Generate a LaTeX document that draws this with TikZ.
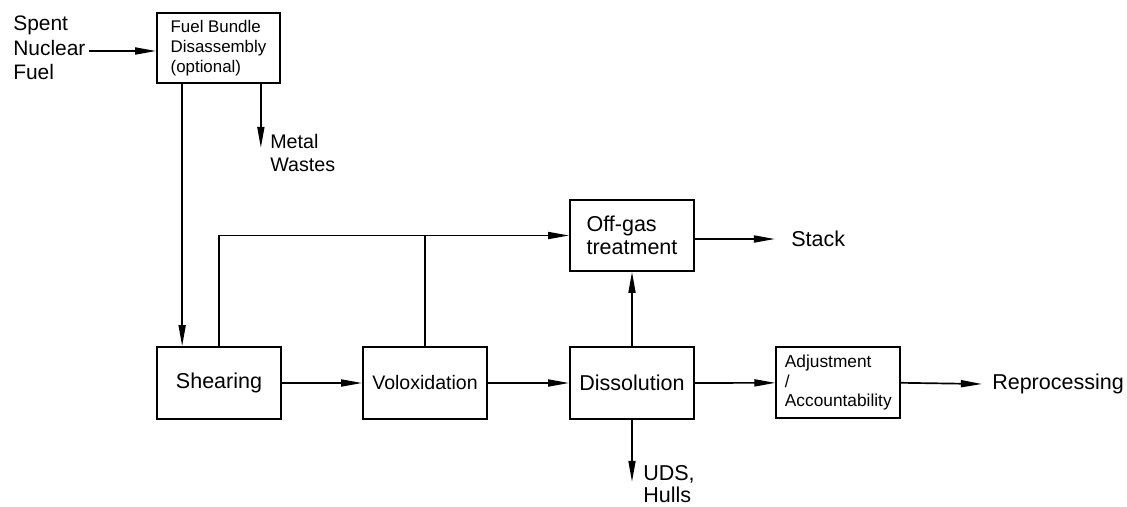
\documentclass[tikz,border=0pt]{standalone}
\usepackage{fontspec}
\setmainfont{Liberation Sans}
\usetikzlibrary{arrows.meta,calc}

\tikzset{
    proc/.style={draw, line width=1.2pt, inner sep=0, align=left,
        minimum width=3.1cm, minimum height=1.8cm,
        font=\fontsize{15.3}{16.6}\selectfont},
    lbl/.style={inner sep=0, align=left, font=\fontsize{15.3}{16.8}\selectfont},
    flow/.style={line width=1.2pt, -{Triangle[length=15pt, width=5pt]}},
    wire/.style={line width=1.2pt}
}

\begin{document}
\begin{tikzpicture}[x=0.025cm, y=-0.025cm]
\useasboundingbox (0,0) rectangle (1127,507);

    %boxes
    \node[proc, minimum width=3.075cm, minimum height=1.75cm,
        font=\fontsize{12}{14.2}\selectfont] (fuelbox) at (218.5,48)
        {Fuel Bundle\\Disassembly\\(optional)};
    \node[proc] (shear) at (219,383) {Shearing};
    \node[proc, font=\fontsize{13.9}{15}\selectfont] (volox) at (425,383) {Voloxidation};
    \node[proc] (dissol) at (632,383) {Dissolution};
    \node[proc, minimum height=1.775cm] (offgas) at (632,235.5) {Off-gas\\treatment};
    \node[proc, minimum height=1.775cm,
        font=\fontsize{12.3}{14}\selectfont] (adjust) at (838.3,382.8)
        {Adjustment\\/\\Accountability};

    %outside labels
    \node[lbl, anchor=west, font=\fontsize{14.9}{17.4}\selectfont] (snf) at (13,48)
        {Spent\\Nuclear\\Fuel};
    \node[lbl, anchor=north west, font=\fontsize{14}{16}\selectfont] (metal) at (270,134)
        {Metal\\Wastes};
    \node[lbl, anchor=west] (stack) at (791,239) {Stack};
    \node[lbl, anchor=west] (repro) at (992,384) {Reprocessing};
    \node[lbl, anchor=north west, font=\fontsize{15.3}{15.6}\selectfont] (uds) at (643,465)
        {UDS,\\Hulls};

    %flows
    \coordinate (sa) at ($(snf.east)+(3,3)$);
    \draw[flow] (sa) -- (sa -| fuelbox.west);
    \coordinate (fa) at ($(fuelbox.south west)+(26,0)$);
    \draw[flow] (fa) -- (fa |- shear.north);
    \coordinate (mw) at ($(fuelbox.south east)+(-20,0)$);
    \coordinate (mwend) at ($(mw)+(0,64)$);
    \draw[flow] (mw) -- (mwend);

    \draw[flow] (shear) -- (volox);
    \draw[flow] (volox) -- (dissol);
    \draw[flow] (dissol) -- (adjust);
    \draw[flow] (dissol) -- (offgas);
    \draw[flow] (shear.north) |- (offgas.west);
    \draw[wire] (volox.north) -- (volox.north |- offgas.west);

    \coordinate (stk) at ($(stack.west)+(-16,0)$);
    \draw[flow] (offgas.east |- stk) -- (stk);
    \coordinate (rep) at ($(repro.west)+(-10,0)$);
    \draw[flow] (adjust.east) -- (rep);
    \coordinate (udsend) at ($(dissol.south)+(0,62)$);
    \draw[flow] (dissol.south) -- (udsend);
\end{tikzpicture}
\end{document}
